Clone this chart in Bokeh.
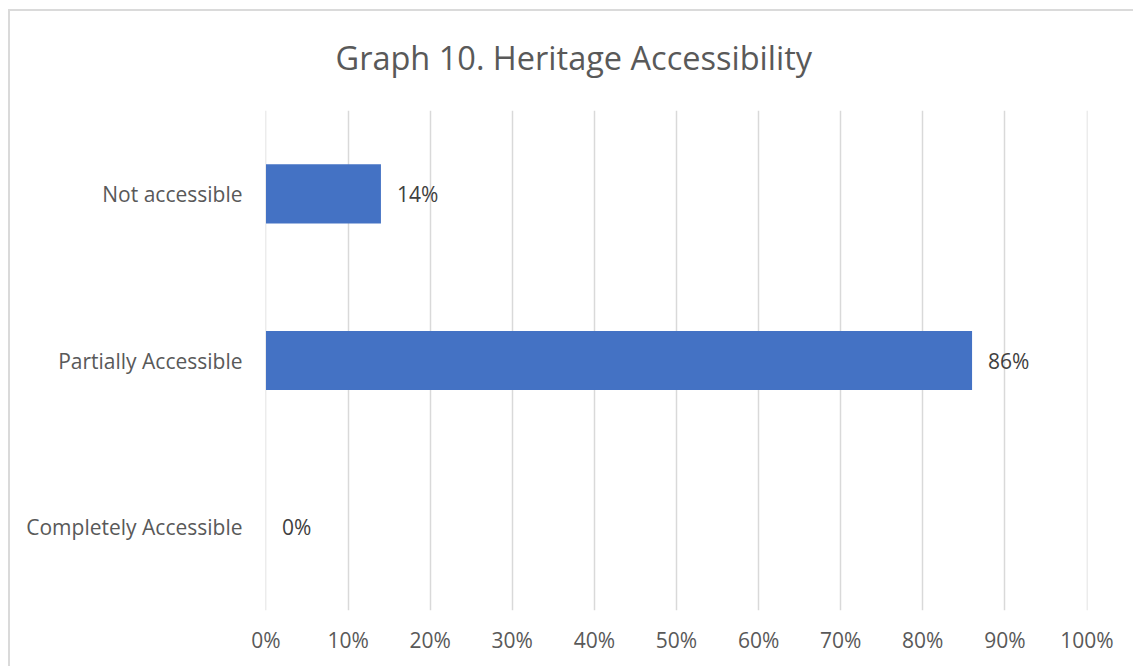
from bokeh.plotting import figure
from bokeh.models import FactorRange, Range1d, FixedTicker, ColumnDataSource
from bokeh.core.properties import value
from bokeh.embed import file_html
from bokeh.resources import INLINE

# Categories listed bottom to top
categories = ["Completely Accessible", "Partially Accessible", "Not accessible"]
shares = [0, 86, 14]
x_ticks = [0, 10, 20, 30, 40, 50, 60, 70, 80, 90, 100]
tick_labels = ["0%", "10%", "20%", "30%", "40%", "50%", "60%", "70%", "80%", "90%", "100%"]

FONT = "Open Sans"
BAR_COLOR = "#4472C4"
GRID_COLOR = "#d9d9d9"
LABEL_COLOR = "#595959"

source = ColumnDataSource(dict(
    cat=categories,
    share=shares,
    label=[f"{v}%" for v in shares],
))

# Thin chart border along the top and left, painted behind a transparent canvas
border_css = {
    "background-image": "linear-gradient(#dadada, #dadada), linear-gradient(#dadada, #dadada)",
    "background-size": "2px 700px, 1200px 2px",
    "background-position": "8px 9px, 8px 9px",
    "background-repeat": "no-repeat",
    "background-color": "white",
}

p = figure(
    width=1133, height=666,
    y_range=FactorRange(*categories),
    # a hair of padding keeps the 0% and 100% grid lines from being dropped
    x_range=Range1d(-0.06, 100.06),
    output_backend="svg",
    toolbar_location=None,
    min_border_left=265, min_border_right=46,
    min_border_top=110, min_border_bottom=56,
    styles=border_css,
)
p.outline_line_color = None
p.background_fill_color = "white"
p.border_fill_alpha = 0

# Title
p.title.text = "Graph 10. Heritage Accessibility"
p.title.text_font = FONT
p.title.text_font_size = "32.5px"
p.title.text_font_style = "normal"
p.title.text_color = LABEL_COLOR
p.title.text_line_height = 1.0
p.title.align = "left"
p.title.offset = 70
p.title.standoff = 62

# Bars
p.hbar(y="cat", right="share", left=0, height=0.355, source=source,
       fill_color=BAR_COLOR, line_color=None)

# Value labels
p.text(x="share", y="cat", text="label", source=source,
       x_offset=16, text_baseline="middle", text_align="left",
       text_font=value(FONT), text_font_size="21px", text_color="#404040")

# Grid
p.ygrid.grid_line_color = None
p.xgrid.grid_line_color = GRID_COLOR
p.xgrid.grid_line_width = 1.5
p.xgrid.ticker = FixedTicker(ticks=x_ticks)

# X axis
p.xaxis.ticker = FixedTicker(ticks=x_ticks)
p.xaxis.major_label_overrides = dict(zip(x_ticks, tick_labels))
p.xaxis.axis_line_color = None
p.xaxis.major_tick_line_color = None
p.xaxis.minor_tick_line_color = None
p.xaxis.major_tick_out = 0
p.xaxis.major_tick_in = 0
p.xaxis.major_label_standoff = 15
p.xaxis.major_label_text_font = FONT
p.xaxis.major_label_text_font_size = "21px"
p.xaxis.major_label_text_color = LABEL_COLOR

# Y axis
p.yaxis.axis_line_color = None
p.yaxis.major_tick_line_color = None
p.yaxis.major_tick_out = 0
p.yaxis.major_tick_in = 0
p.yaxis.major_label_standoff = 23
p.yaxis.major_label_text_font = FONT
p.yaxis.major_label_text_font_size = "21px"
p.yaxis.major_label_text_color = LABEL_COLOR

open("out.html", "w").write(file_html(p, INLINE))
